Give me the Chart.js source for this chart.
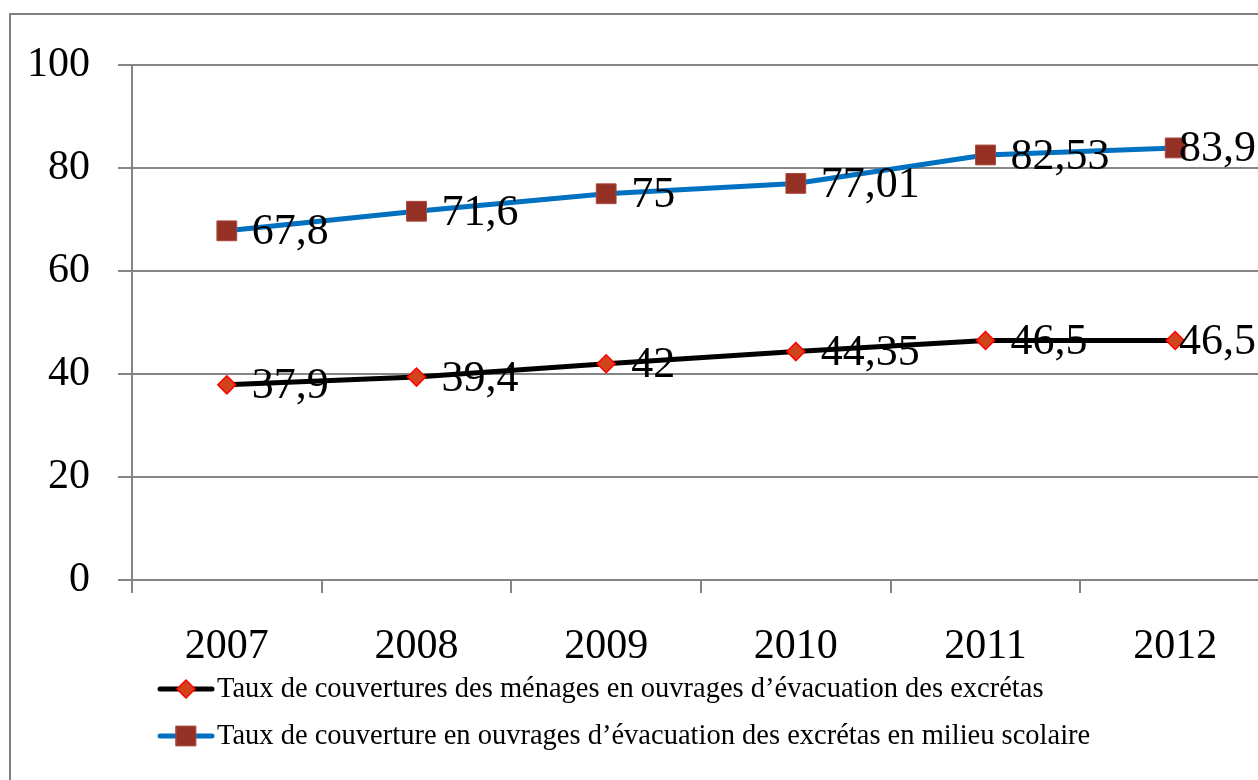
<!DOCTYPE html>
<html>
<head>
<meta charset="utf-8">
<script src="https://cdn.jsdelivr.net/npm/chart.js@4/dist/chart.umd.min.js"></script>
<style>
  html, body { margin: 0; padding: 0; background: #fff; overflow: hidden; }
  #wrap { position: absolute; left: 0; top: 0; width: 1300px; height: 800px; }
</style>
</head>
<body>
<div id="wrap"><canvas id="chart" width="1300" height="800"></canvas></div>
<script>
// data
const years = ['2007', '2008', '2009', '2010', '2011', '2012'];
const menages = [37.9, 39.4, 42, 44.35, 46.5, 46.5];
const scolaire = [67.8, 71.6, 75, 77.01, 82.53, 83.9];
const yTicks = [0, 20, 40, 60, 80, 100];
const labelMenages = 'Taux de couvertures des ménages en ouvrages d’évacuation des excrétas';
const labelScolaire = 'Taux de couverture en ouvrages d’évacuation des excrétas en milieu scolaire';

const FONT = '"Liberation Serif", "Times New Roman", serif';
const GRID = '#858585';

// outer frame of the chart object
const framePlugin = {
  id: 'frame',
  beforeDraw(chart) {
    const c = chart.ctx;
    c.save();
    c.fillStyle = '#fff';
    c.fillRect(0, 0, chart.width, chart.height);
    c.strokeStyle = '#7f7f7f';
    c.lineWidth = 2;
    c.strokeRect(10, 14, chart.width + 40, chart.height + 40);
    c.restore();
  }
};

// value labels to the right of each point, with a decimal comma
const valueLabels = {
  id: 'valueLabels',
  afterDatasetsDraw(chart) {
    const c = chart.ctx;
    c.save();
    c.font = '44px ' + FONT;
    c.fillStyle = '#000';
    c.textBaseline = 'middle';
    c.textAlign = 'left';
    chart.data.datasets.forEach((ds, i) => {
      chart.getDatasetMeta(i).data.forEach((pt, j) => {
        const txt = String(ds.data[j]).replace('.', ',');
        const w = c.measureText(txt).width;
        const x = Math.min(pt.x + 25, chart.chartArea.right - w - 14);
        c.fillText(txt, x, pt.y + 2);
      });
    });
    c.restore();
  }
};

// legend: line with marker, then the label
const legendPlugin = {
  id: 'customLegend',
  afterDraw(chart) {
    const c = chart.ctx;
    c.save();
    c.font = '28.5px ' + FONT;
    c.textBaseline = 'middle';
    const rows = [689, 736];
    chart.data.datasets.forEach((ds, i) => {
      const y = rows[i];
      c.strokeStyle = ds.borderColor;
      c.lineWidth = 5;
      c.lineCap = 'round';
      c.beginPath();
      c.moveTo(160, y);
      c.lineTo(212, y);
      c.stroke();
      c.fillStyle = ds.pointBackgroundColor;
      c.strokeStyle = ds.pointBorderColor;
      c.lineWidth = ds.pointBorderWidth;
      c.beginPath();
      if (ds.pointStyle === 'rect') {
        const s = ds.pointRadius * Math.SQRT1_2;
        c.rect(186 - s, y - s, 2 * s, 2 * s);
      } else {
        const r = ds.pointRadius;
        c.moveTo(186 - r, y); c.lineTo(186, y - r); c.lineTo(186 + r, y); c.lineTo(186, y + r); c.closePath();
      }
      c.fill();
      c.stroke();
      c.fillStyle = '#000';
      c.fillText(ds.label, 217, y + 1);
    });
    c.restore();
  }
};

new Chart(document.getElementById('chart').getContext('2d'), {
  type: 'line',
  data: {
    labels: years,
    datasets: [{
      label: labelMenages,
      data: menages,
      borderColor: '#000000',
      borderWidth: 5,
      pointStyle: 'rectRot',
      pointRadius: 9,
      pointBackgroundColor: '#d2451c',
      pointBorderColor: '#ff0000',
      pointBorderWidth: 1.5,
      tension: 0
    }, {
      label: labelScolaire,
      data: scolaire,
      borderColor: '#0070c0',
      borderWidth: 5,
      pointStyle: 'rect',
      pointRadius: 14,
      pointBackgroundColor: '#953024',
      pointBorderColor: '#a8473a',
      pointBorderWidth: 1,
      tension: 0
    }]
  },
  options: {
    responsive: false,
    animation: false,
    layout: { padding: { left: 0, top: 65, right: 30, bottom: 0 } },
    plugins: { legend: { display: false }, tooltip: { enabled: false } },
    scales: {
      x: {
        offset: true,
        grid: { offset: true, drawOnChartArea: false, drawTicks: true, tickLength: 13, color: GRID, lineWidth: 2 },
        border: { display: true, color: GRID, width: 2 },
        ticks: { color: '#000', font: { family: FONT, size: 42 }, padding: 29, maxRotation: 0 },
        afterFit(scale) { scale.height = 220; }
      },
      y: {
        min: 0,
        max: 100,
        afterBuildTicks(scale) { scale.ticks = yTicks.map(v => ({ value: v })); },
        grid: { color: GRID, lineWidth: 2, tickLength: 14 },
        border: { display: true, color: GRID, width: 2 },
        ticks: { color: '#000', font: { family: FONT, size: 42 }, padding: 28 },
        afterFit(scale) { scale.width = 132; }
      }
    }
  },
  plugins: [framePlugin, valueLabels, legendPlugin]
});
</script>
</body>
</html>
